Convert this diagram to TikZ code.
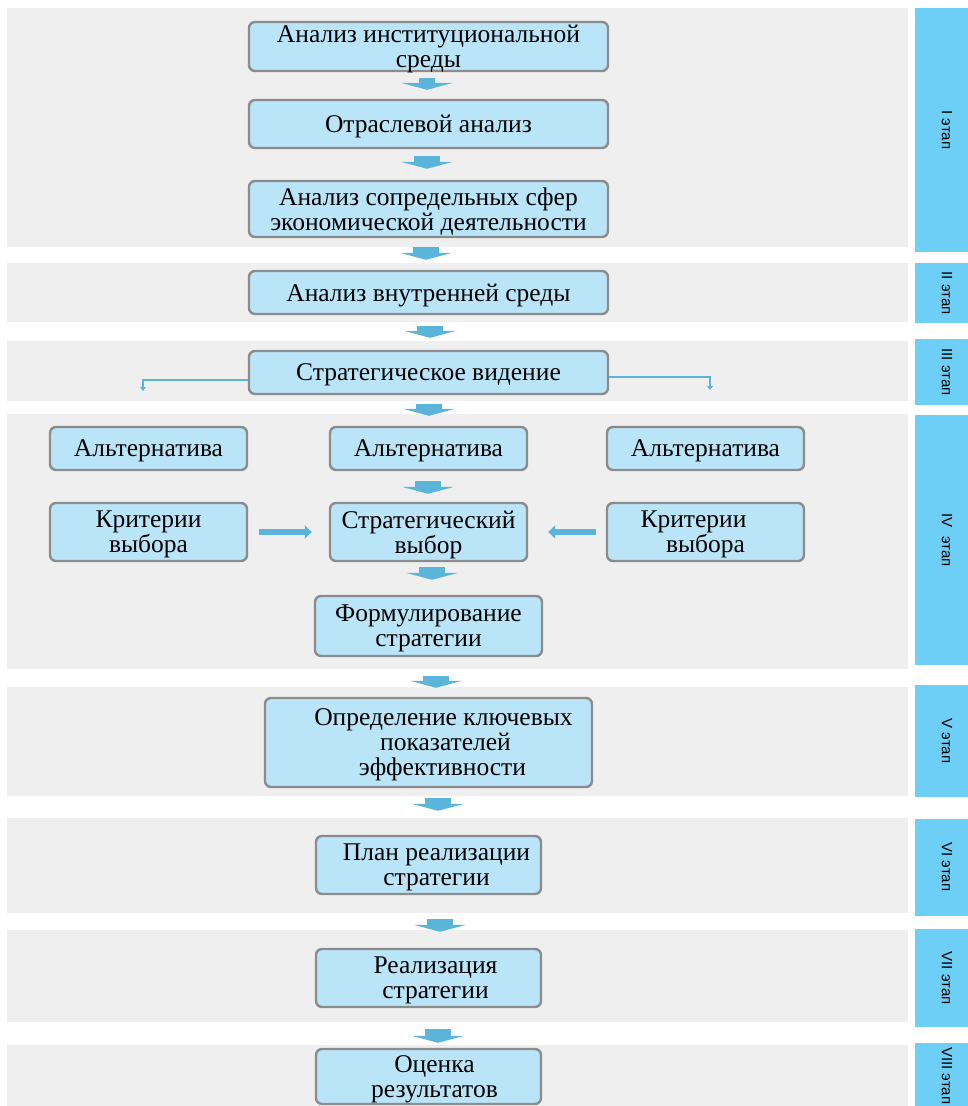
\documentclass[tikz,border=0pt]{standalone}
\usepackage{fontspec}
\setmainfont{Liberation Serif}
\newfontfamily\stagefont{Liberation Sans}
\usetikzlibrary{arrows.meta}
\definecolor{bandgray}{HTML}{EFEFEF}
\definecolor{boxfill}{HTML}{BAE5F9}
\definecolor{boxline}{HTML}{8C8C8C}
\definecolor{stagefill}{HTML}{6DCFF6}
\definecolor{arrowblue}{HTML}{5BB4D9}
\tikzset{
  box/.style={draw=boxline, line width=2.4pt, fill=boxfill, rounded corners=6pt,
    align=center, inner sep=0pt, text depth=0pt, font=\fontsize{25.5}{25}\selectfont},
  band/.style={fill=bandgray},
  stage/.style={fill=stagefill},
  stagetext/.style={rotate=-90, font=\stagefont\fontsize{15}{17}\selectfont, inner sep=0pt},
  bigarrow/.style={draw=arrowblue, line width=26pt, -{Triangle[width=52pt,length=7pt]}},
  thinarrow/.style={draw=arrowblue, line width=6pt, -{Triangle[width=13pt,length=7pt]}},
  sideline/.style={draw=arrowblue, line width=2.8pt, -{Triangle[width=6pt,length=4pt]}},
}
\begin{document}
\begin{tikzpicture}[x=1pt,y=-1pt]
\useasboundingbox (0,0) rectangle (968,1106);
% bands
\fill[band] (7,8) rectangle (908,247);
\fill[band] (7,263) rectangle (908,322);
\fill[band] (7,341) rectangle (908,401);
\fill[band] (7,414) rectangle (908,669);
\fill[band] (7,687) rectangle (908,796);
\fill[band] (7,818) rectangle (908,913);
\fill[band] (7,930) rectangle (908,1022);
\fill[band] (7,1045) rectangle (908,1106);
% stage labels
\fill[stage] (915,8) rectangle (968,252);
\fill[stage] (915,263) rectangle (968,323);
\fill[stage] (915,339) rectangle (968,405);
\fill[stage] (915,415) rectangle (968,665);
\fill[stage] (915,685) rectangle (968,797);
\fill[stage] (915,819) rectangle (968,916);
\fill[stage] (915,929) rectangle (968,1027);
\fill[stage] (915,1043) rectangle (968,1106);
\node[stagetext] (s1) at (947,130) {I этап};
\node[stagetext] (s2) at (947,293) {II этап};
\node[stagetext] (s3) at (947,372) {III этап};
\node[stagetext] (s4) at (947,540) {IV\ \ этап};
\node[stagetext] (s5) at (947,741) {V этап};
\node[stagetext] (s6) at (947,867) {VI этап};
\node[stagetext] (s7) at (947,978) {VII этап};
\node[stagetext, anchor=west] (s8) at (947,1047) {VIII этап};
% boxes
\node[box, minimum width=359pt, minimum height=49pt] (b1) at (428.5,46.5) {Анализ институциональной\\среды};
\node[box, minimum width=359pt, minimum height=48pt] (b2) at (428.5,124) {Отраслевой анализ};
\node[box, minimum width=359pt, minimum height=56pt] (b3) at (428.5,209) {Анализ сопредельных сфер\\экономической деятельности};
\node[box, minimum width=359pt, minimum height=43pt] (b4) at (428.5,292.5) {Анализ внутренней среды};
\node[box, minimum width=359pt, minimum height=43pt] (b5) at (428.5,372.5) {Стратегическое видение};
\node[box, minimum width=197pt, minimum height=43pt] (altl) at (148.5,448.5) {Альтернатива};
\node[box, minimum width=197pt, minimum height=43pt] (altc) at (428.5,448.5) {Альтернатива};
\node[box, minimum width=197pt, minimum height=43pt] (altr) at (705.5,448.5) {Альтернатива};
\node[box, minimum width=197pt, minimum height=58pt] (critl) at (148.5,532) {Критерии\\выбора};
\node[box, minimum width=197pt, minimum height=58pt] (choice) at (428.5,532) {Стратегический\\выбор};
\node[box, minimum width=197pt, minimum height=58pt] (critr) at (705.5,532) {Критерии\kern24pt\\выбора};
\node[box, minimum width=227pt, minimum height=60pt] (form) at (428.5,626) {Формулирование\\стратегии};
\node[box, minimum width=327pt, minimum height=89pt] (kpi) at (428.5,742.5) {\kern30pt Определение ключевых\\\kern34pt показателей\\\kern28pt эффективности};
\node[box, minimum width=225pt, minimum height=58pt] (plan) at (428.5,865) {\kern16pt План реализации\\\kern16pt стратегии};
\node[box, minimum width=225pt, minimum height=58pt] (real) at (428.5,978) {\kern14pt Реализация\\\kern14pt стратегии};
\node[box, minimum width=225pt, minimum height=55pt] (eval) at (428.5,1076.5) {\kern12pt Оценка\\\kern12pt результатов};
% vertical block arrows
\draw[bigarrow, line width=16pt] ([xshift=-1.5pt,yshift=-6pt]b1.south) -- ([xshift=-1.5pt,yshift=9pt]b2.north);
\draw[bigarrow] ([xshift=-1.5pt,yshift=-7pt]b2.south) -- ([xshift=-1.5pt,yshift=11pt]b3.north);
\draw[bigarrow] ([xshift=-2.5pt,yshift=-9pt]b3.south) -- ([xshift=-2.5pt,yshift=10pt]b4.north);
\draw[bigarrow] ([xshift=1.5pt,yshift=-11pt]b4.south) -- ([xshift=1.5pt,yshift=12pt]b5.north);
\draw[bigarrow] ([xshift=0.5pt,yshift=-9pt]b5.south) -- ([xshift=0.5pt,yshift=10pt]altc.north);
\draw[bigarrow] ([xshift=-0.5pt,yshift=-10pt]altc.south) -- ([xshift=-0.5pt,yshift=8pt]choice.north);
\draw[bigarrow] ([xshift=3.5pt,yshift=-5pt]choice.south) -- ([xshift=3.5pt,yshift=15pt]form.north);
\draw[bigarrow] ([xshift=7.5pt,yshift=-19pt]form.south) -- ([xshift=7.5pt,yshift=9pt]kpi.north);
\draw[bigarrow] ([xshift=9.5pt,yshift=-10pt]kpi.south) -- ([xshift=9.5pt,yshift=24pt]plan.north);
\draw[bigarrow] ([xshift=11.5pt,yshift=-24pt]plan.south) -- ([xshift=11.5pt,yshift=16pt]real.north);
\draw[bigarrow] ([xshift=9.5pt,yshift=-21pt]real.south) -- ([xshift=9.5pt,yshift=5pt]eval.north);
% horizontal arrows
\draw[thinarrow, shorten <=11pt, shorten >=17pt] (critl.east) -- (choice.west);
\draw[thinarrow, shorten <=10pt, shorten >=20pt] (critr.west) -- (choice.east);
% side connectors from vision
\coordinate (lend) at (143,391);
\coordinate (rend) at (710,390);
\draw[sideline] ([yshift=-7.5pt]b5.west) -| (lend);
\draw[sideline] ([yshift=-4.5pt]b5.east) -| (rend);
\end{tikzpicture}
\end{document}
